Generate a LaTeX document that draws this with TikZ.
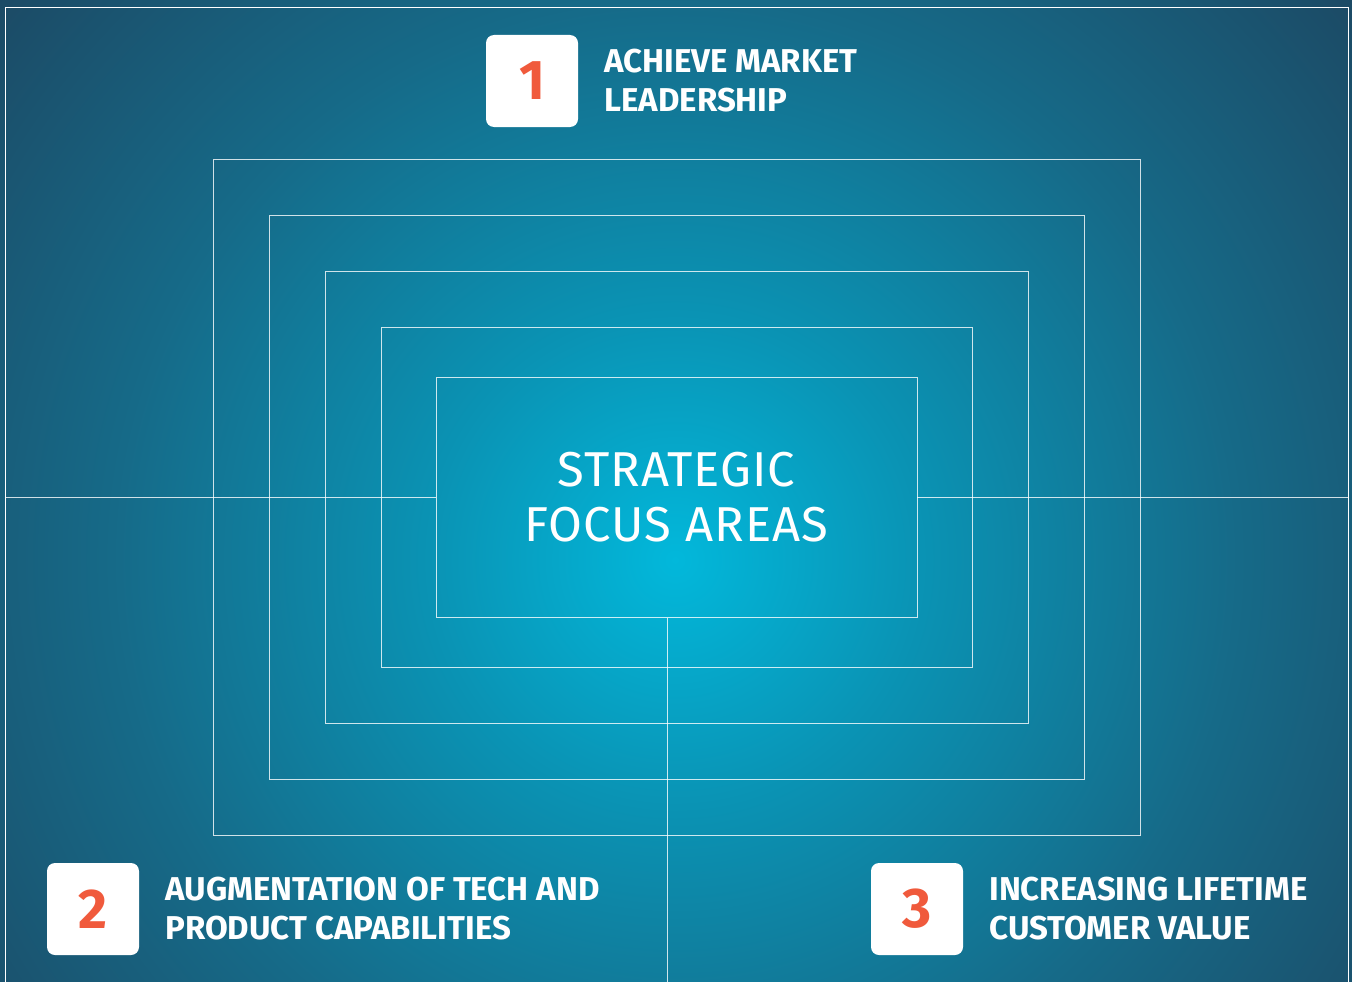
\documentclass[tikz,border=0pt]{standalone}
\usepackage{fontspec}
\usepackage{xcolor}
\setmainfont{Fira Sans}
\newfontfamily\headfont[LetterSpace=2]{Fira Sans}
\usetikzlibrary{positioning}

\definecolor{glowcore}{HTML}{02B8DB}
\definecolor{glowmid}{HTML}{0A93B4}
\definecolor{glowdeep}{HTML}{166A88}
\definecolor{glowedge}{HTML}{1C4A65}
\definecolor{digitred}{HTML}{F05A3C}
\pgfdeclareradialshading{bgglow}{\pgfpoint{0bp}{0bp}}{color(0bp)=(glowcore); color(7bp)=(glowmid); color(16bp)=(glowdeep); color(25bp)=(glowedge); color(50bp)=(glowedge)}

\begin{document}
\begin{tikzpicture}[x=1pt, y=-1pt,
ring/.style={draw=white, draw opacity=0.8, line width=0.9pt},
frame/.style={draw=white, line width=1.6pt},
core/.style={ring, minimum width=481pt, minimum height=240pt, inner sep=0pt, align=center, text=white, font=\headfont\fontsize{49}{55}\selectfont},
numbox/.style={rectangle, fill=white, rounded corners=8pt, minimum size=92pt, inner sep=0pt, text=digitred, font=\bfseries\fontsize{56}{56}\selectfont},
caption/.style={align=left, inner sep=0pt, text=white, font=\bfseries\fontsize{33}{39}\selectfont}]
\useasboundingbox (0,0) rectangle (1352,982);
% background glow
\begin{scope}
\clip (0,0) rectangle (1352,982);
\shade[shading=bgglow] (-205,-320) rectangle (1555,1440);
\end{scope}
\draw[frame] (5.5,1000) -- (5.5,7.5) -- (1348.5,7.5) -- (1348.5,1000);

% nested frames
\foreach \w/\h in {463.5/338, 407.5/282, 351.5/226, 295.5/170}
  \draw[ring] ({676.5-\w},{497-\h}) rectangle ({676.5+\w},{497+\h});
\node[core] (core) at (676.5,497.5) {STRATEGIC\\FOCUS AREAS};

% axes
\coordinate (west end) at (5.5,497.5);
\coordinate (east end) at (1348.5,497.5);
\coordinate (south end) at (667,1000);
\draw[ring] (west end) -- (core.west);
\draw[ring] (core.east) -- (east end);
\draw[ring] (core.south -| south end) -- (south end);

% focus areas
\node[numbox] (n1) at (532,81) {1};
\node[caption, right=26pt of n1] (t1) {ACHIEVE MARKET\\LEADERSHIP};
\node[numbox] (n2) at (93,909) {2};
\node[caption, right=26pt of n2] (t2) {AUGMENTATION OF TECH AND\\PRODUCT CAPABILITIES};
\node[numbox] (n3) at (917,909) {3};
\node[caption, right=26pt of n3] (t3) {INCREASING LIFETIME\\CUSTOMER VALUE};
\end{tikzpicture}
\end{document}
